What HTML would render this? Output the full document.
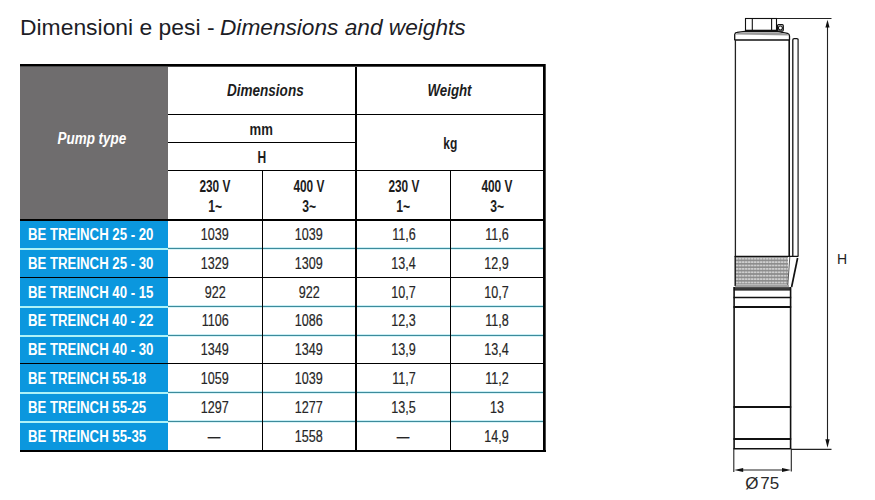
<!DOCTYPE html>
<html><head><meta charset="utf-8">
<style>
html,body{margin:0;padding:0;background:#fff;}
body{width:875px;height:500px;position:relative;overflow:hidden;font-family:"Liberation Sans",Arial,sans-serif;color:#222;}
.a{position:absolute;}
.k{position:absolute;background:#000;}
.bl{position:absolute;background:#3d8b9b;height:1px;box-shadow:0 -1px 0 #c9eef4,0 1px 0 #d9f4f8;}
.wl{position:absolute;background:#aef2f7;height:2px;}
.c{position:absolute;text-align:center;white-space:nowrap;}
.c span{display:inline-block;}
.hd{font-weight:bold;font-size:16px;line-height:16px;color:#1c1c1c;}
.hi{font-weight:bold;font-style:italic;font-size:16px;line-height:16px;color:#1c1c1c;}
.lab{font-weight:bold;font-size:16px;line-height:16px;color:#fff;}
.v{font-size:16px;line-height:16px;color:#262626;-webkit-text-stroke:0.2px #262626;}
</style></head><body>
<!-- title -->
<div class="a" style="left:20px;top:17px;font-size:22px;line-height:22px;color:#1d1d26;white-space:nowrap;transform-origin:0 0;transform:scaleX(1.04)">Dimensioni e pesi -</div>
<div class="a" style="left:219.5px;top:17px;font-size:22px;line-height:22px;color:#1d1d26;font-style:italic;white-space:nowrap;transform-origin:0 0;transform:scaleX(1.03)">Dimensions and weights</div>

<!-- table backgrounds -->
<div class="a" style="left:20px;top:67px;width:148px;height:152px;background:#6f6d6e;"></div>
<div class="a" style="left:20px;top:221px;width:148px;height:229px;background:#0b97de;"></div>

<!-- borders -->
<div class="k" style="left:20px;top:64px;width:526px;height:2px;"></div>
<div class="a" style="left:20px;top:66px;width:526px;height:1px;background:#4a4a4a;"></div>
<div class="k" style="left:543px;top:64px;width:2px;height:388px;"></div>
<div class="a" style="left:545px;top:64px;width:1px;height:388px;background:#4a4a4a;"></div>
<div class="k" style="left:20px;top:450px;width:526px;height:2px;"></div>
<div class="k" style="left:20px;top:219px;width:523px;height:2px;"></div>
<div class="k" style="left:168px;top:114px;width:375px;height:1px;"></div>
<div class="k" style="left:168px;top:142px;width:187px;height:1px;"></div>
<div class="k" style="left:168px;top:170px;width:375px;height:1px;"></div>

<!-- row separators -->
<div class="bl" style="left:168px;top:248px;width:375px;"></div>
<div class="wl" style="left:20px;top:248px;width:148px;"></div>
<div class="k" style="left:20px;top:277px;width:523px;height:1px;"></div>
<div class="bl" style="left:168px;top:306px;width:375px;"></div>
<div class="wl" style="left:20px;top:306px;width:148px;"></div>
<div class="bl" style="left:168px;top:335px;width:375px;"></div>
<div class="wl" style="left:20px;top:335px;width:148px;"></div>
<div class="k" style="left:20px;top:363px;width:523px;height:1px;"></div>
<div class="bl" style="left:168px;top:392px;width:375px;"></div>
<div class="wl" style="left:20px;top:392px;width:148px;"></div>
<div class="bl" style="left:168px;top:421px;width:375px;"></div>
<div class="wl" style="left:20px;top:421px;width:148px;"></div>

<!-- verticals -->
<div class="k" style="left:355px;top:67px;width:2px;height:383px;"></div>
<div class="k" style="left:262px;top:171px;width:1px;height:279px;"></div>
<div class="k" style="left:450px;top:171px;width:1px;height:279px;"></div>

<!-- header text -->
<div class="c hi" style="left:18px;width:148px;top:131px;color:#fff;"><span style="transform:scaleX(0.84)">Pump type</span></div>
<div class="c hi" style="left:172px;width:187px;top:83px;"><span style="transform:scaleX(0.845)">Dimensions</span></div>
<div class="c hi" style="left:357px;width:186px;top:83px;"><span style="transform:scaleX(0.83)">Weight</span></div>
<div class="c hd" style="left:168px;width:187px;top:122px;"><span style="transform:scaleX(0.82)">mm</span></div>
<div class="c hd" style="left:168px;width:187px;top:150px;"><span style="transform:scaleX(0.75)">H</span></div>
<div class="c hd" style="left:357px;width:186px;top:136px;"><span style="transform:scaleX(0.75)">kg</span></div>

<div class="c hd" style="left:168px;width:94px;top:179px;"><span style="transform:scaleX(0.74)">230 V</span></div>
<div class="c hd" style="left:168px;width:94px;top:199px;"><span style="transform:scaleX(0.76)">1~</span></div>
<div class="c hd" style="left:263px;width:92px;top:179px;"><span style="transform:scaleX(0.74)">400 V</span></div>
<div class="c hd" style="left:263px;width:92px;top:199px;"><span style="transform:scaleX(0.76)">3~</span></div>
<div class="c hd" style="left:357px;width:93px;top:179px;"><span style="transform:scaleX(0.74)">230 V</span></div>
<div class="c hd" style="left:357px;width:93px;top:199px;"><span style="transform:scaleX(0.76)">1~</span></div>
<div class="c hd" style="left:451px;width:92px;top:179px;"><span style="transform:scaleX(0.74)">400 V</span></div>
<div class="c hd" style="left:451px;width:92px;top:199px;"><span style="transform:scaleX(0.76)">3~</span></div>

<!-- rows -->
<div class="a lab" style="left:28px;top:226.9px;white-space:nowrap;transform-origin:0 0;transform:scaleX(0.825)">BE TREINCH 25 - 20</div>
<div class="c v" style="left:168px;width:94px;top:226.9px;"><span style="transform:scaleX(0.785)">1039</span></div>
<div class="c v" style="left:263px;width:92px;top:226.9px;"><span style="transform:scaleX(0.785)">1039</span></div>
<div class="c v" style="left:357px;width:93px;top:226.9px;"><span style="transform:scaleX(0.785)">11,6</span></div>
<div class="c v" style="left:451px;width:92px;top:226.9px;"><span style="transform:scaleX(0.785)">11,6</span></div>
<div class="a lab" style="left:28px;top:255.7px;white-space:nowrap;transform-origin:0 0;transform:scaleX(0.825)">BE TREINCH 25 - 30</div>
<div class="c v" style="left:168px;width:94px;top:255.7px;"><span style="transform:scaleX(0.785)">1329</span></div>
<div class="c v" style="left:263px;width:92px;top:255.7px;"><span style="transform:scaleX(0.785)">1309</span></div>
<div class="c v" style="left:357px;width:93px;top:255.7px;"><span style="transform:scaleX(0.785)">13,4</span></div>
<div class="c v" style="left:451px;width:92px;top:255.7px;"><span style="transform:scaleX(0.785)">12,9</span></div>
<div class="a lab" style="left:28px;top:284.5px;white-space:nowrap;transform-origin:0 0;transform:scaleX(0.825)">BE TREINCH 40 - 15</div>
<div class="c v" style="left:168px;width:94px;top:284.5px;"><span style="transform:scaleX(0.785)">922</span></div>
<div class="c v" style="left:263px;width:92px;top:284.5px;"><span style="transform:scaleX(0.785)">922</span></div>
<div class="c v" style="left:357px;width:93px;top:284.5px;"><span style="transform:scaleX(0.785)">10,7</span></div>
<div class="c v" style="left:451px;width:92px;top:284.5px;"><span style="transform:scaleX(0.785)">10,7</span></div>
<div class="a lab" style="left:28px;top:313.3px;white-space:nowrap;transform-origin:0 0;transform:scaleX(0.825)">BE TREINCH 40 - 22</div>
<div class="c v" style="left:168px;width:94px;top:313.3px;"><span style="transform:scaleX(0.785)">1106</span></div>
<div class="c v" style="left:263px;width:92px;top:313.3px;"><span style="transform:scaleX(0.785)">1086</span></div>
<div class="c v" style="left:357px;width:93px;top:313.3px;"><span style="transform:scaleX(0.785)">12,3</span></div>
<div class="c v" style="left:451px;width:92px;top:313.3px;"><span style="transform:scaleX(0.785)">11,8</span></div>
<div class="a lab" style="left:28px;top:342.1px;white-space:nowrap;transform-origin:0 0;transform:scaleX(0.825)">BE TREINCH 40 - 30</div>
<div class="c v" style="left:168px;width:94px;top:342.1px;"><span style="transform:scaleX(0.785)">1349</span></div>
<div class="c v" style="left:263px;width:92px;top:342.1px;"><span style="transform:scaleX(0.785)">1349</span></div>
<div class="c v" style="left:357px;width:93px;top:342.1px;"><span style="transform:scaleX(0.785)">13,9</span></div>
<div class="c v" style="left:451px;width:92px;top:342.1px;"><span style="transform:scaleX(0.785)">13,4</span></div>
<div class="a lab" style="left:28px;top:370.9px;white-space:nowrap;transform-origin:0 0;transform:scaleX(0.825)">BE TREINCH 55-18</div>
<div class="c v" style="left:168px;width:94px;top:370.9px;"><span style="transform:scaleX(0.785)">1059</span></div>
<div class="c v" style="left:263px;width:92px;top:370.9px;"><span style="transform:scaleX(0.785)">1039</span></div>
<div class="c v" style="left:357px;width:93px;top:370.9px;"><span style="transform:scaleX(0.785)">11,7</span></div>
<div class="c v" style="left:451px;width:92px;top:370.9px;"><span style="transform:scaleX(0.785)">11,2</span></div>
<div class="a lab" style="left:28px;top:399.7px;white-space:nowrap;transform-origin:0 0;transform:scaleX(0.825)">BE TREINCH 55-25</div>
<div class="c v" style="left:168px;width:94px;top:399.7px;"><span style="transform:scaleX(0.785)">1297</span></div>
<div class="c v" style="left:263px;width:92px;top:399.7px;"><span style="transform:scaleX(0.785)">1277</span></div>
<div class="c v" style="left:357px;width:93px;top:399.7px;"><span style="transform:scaleX(0.785)">13,5</span></div>
<div class="c v" style="left:451px;width:92px;top:399.7px;"><span style="transform:scaleX(0.785)">13</span></div>
<div class="a lab" style="left:28px;top:428.5px;white-space:nowrap;transform-origin:0 0;transform:scaleX(0.825)">BE TREINCH 55-35</div>
<div class="c v" style="left:168px;width:94px;top:428.5px;"><span style="margin-left:-2px;transform:scaleX(0.785)">—</span></div>
<div class="c v" style="left:263px;width:92px;top:428.5px;"><span style="transform:scaleX(0.785)">1558</span></div>
<div class="c v" style="left:357px;width:93px;top:428.5px;"><span style="margin-left:-2px;transform:scaleX(0.785)">—</span></div>
<div class="c v" style="left:451px;width:92px;top:428.5px;"><span style="transform:scaleX(0.785)">14,9</span></div>
<!-- /rows -->
<!-- pump -->
<svg class="a" style="left:700px;top:0;" width="175" height="500" viewBox="700 0 175 500">
<defs>
<pattern id="mesh" x="735.5" y="257" width="3" height="3.4" patternUnits="userSpaceOnUse">
<rect width="3" height="3.4" fill="#8a8a8a"/>
<rect x="0.7" y="0.8" width="1.7" height="1.8" fill="#eeeeee"/>
</pattern>
</defs>
<g fill="none" stroke="#111" stroke-width="1.1">
<!-- outlet -->
<rect x="745.5" y="18.5" width="31" height="12" fill="#fff"/>
<line x1="752.3" y1="18.5" x2="752.3" y2="30.5"/>
<line x1="771.6" y1="18.5" x2="771.6" y2="30.5"/>
<line x1="745" y1="30.6" x2="777.5" y2="30.6" stroke-width="1.6"/>
<!-- small block -->
<rect x="777.5" y="24.7" width="5.8" height="6.4" rx="1" fill="#fff" stroke-width="1.2"/>
<circle cx="780.4" cy="28" r="2" stroke-width="1.1"/>
<!-- cap -->
<path d="M734.7 40 L734.7 34.5 Q735 32.6 737 32.4 L745 31.4 L777 31.4 L787.5 33.4 Q789.5 34 789.5 36 L789.5 40" fill="#fff" stroke-width="1.3"/>
<path d="M735.3 34.6 Q736 33.3 738 33.1 L745 32.2 L777 32.2 L787 34 Q788.7 34.5 788.9 35.4 Z" fill="#9a9a9a" stroke="none"/>
<line x1="734.5" y1="40" x2="789.8" y2="40" stroke-width="1.6"/>
<!-- upper body -->
<line x1="735.4" y1="40" x2="735.4" y2="257" stroke="#222" stroke-width="1.3"/>
<line x1="789.2" y1="40" x2="789.2" y2="257" stroke-width="1.6"/>
<!-- guard -->
<path d="M792.8 256 L792.8 40 Q792.8 38.7 794.2 38.7 L796.8 38.7 Q798.2 38.7 798.2 40 L798.2 256" fill="#fff" stroke-width="1.3"/>
<line x1="798.2" y1="40" x2="798.2" y2="256" stroke="#777" stroke-width="1"/>
<!-- mesh -->
<rect x="735.5" y="256.6" width="52.5" height="28" fill="url(#mesh)" stroke="none"/>
<line x1="734.8" y1="256.3" x2="798.5" y2="256.3" stroke-width="1.2"/>
<line x1="789.8" y1="257" x2="787.8" y2="285" stroke="#555" stroke-width="1"/>
<line x1="797.6" y1="258" x2="791.6" y2="287" stroke-width="1.7"/>
<line x1="735.2" y1="256" x2="735.2" y2="286" stroke-width="1.4"/>
<!-- band below mesh -->
<line x1="735" y1="286" x2="789" y2="286" stroke="#444" stroke-width="1"/>
<rect x="733.8" y="287.2" width="56.8" height="3.4" fill="#262626" stroke="none"/>
<line x1="734" y1="288.9" x2="790.5" y2="288.9" stroke="#666" stroke-width="0.5"/>
<!-- lower body -->
<line x1="734.1" y1="287" x2="734.1" y2="449" stroke-width="1.6"/>
<line x1="790.6" y1="287" x2="790.6" y2="449" stroke-width="1.6"/>
<line x1="733.5" y1="297.6" x2="791.2" y2="297.6" stroke-width="1.5"/>
<line x1="733.5" y1="306.9" x2="791.2" y2="306.9" stroke-width="2"/>
<line x1="733.5" y1="407" x2="791.2" y2="407" stroke-width="2.2"/>
<line x1="733.5" y1="439" x2="791.2" y2="439" stroke-width="2.2"/>
<line x1="733.5" y1="448.7" x2="791.2" y2="448.7" stroke-width="1.5"/>
</g>
<g stroke="#222" stroke-width="1.1" fill="none">
<!-- H dimension -->
<line x1="777" y1="18.5" x2="831.5" y2="18.5"/>
<line x1="791" y1="449.4" x2="831.5" y2="449.4"/>
<line x1="827.5" y1="26" x2="827.5" y2="441"/>
<!-- diameter dimension -->
<line x1="733.8" y1="449" x2="733.8" y2="472"/>
<line x1="791.3" y1="449.5" x2="791.3" y2="471.5"/>
<line x1="742" y1="470" x2="783" y2="470"/>
</g>
<g fill="#111" stroke="none">
<path d="M827.5 19.8 L829.6 27.4 L825.4 27.4 Z"/>
<path d="M827.5 447.8 L829.6 439.2 L825.4 439.2 Z"/>
<path d="M734.2 470 L743.2 467.9 L743.2 472.1 Z"/>
<path d="M791 470 L782 467.9 L782 472.1 Z"/>
</g>
<text x="837" y="264.2" font-family="Liberation Sans, Arial, sans-serif" font-size="14" fill="#222">H</text>
<text y="488.8" font-family="Liberation Sans, Arial, sans-serif" font-size="17" fill="#2a2a2a"><tspan x="745.3">Ø</tspan><tspan x="760.3">75</tspan></text>
</svg>
<!-- /pump -->
</body></html>
